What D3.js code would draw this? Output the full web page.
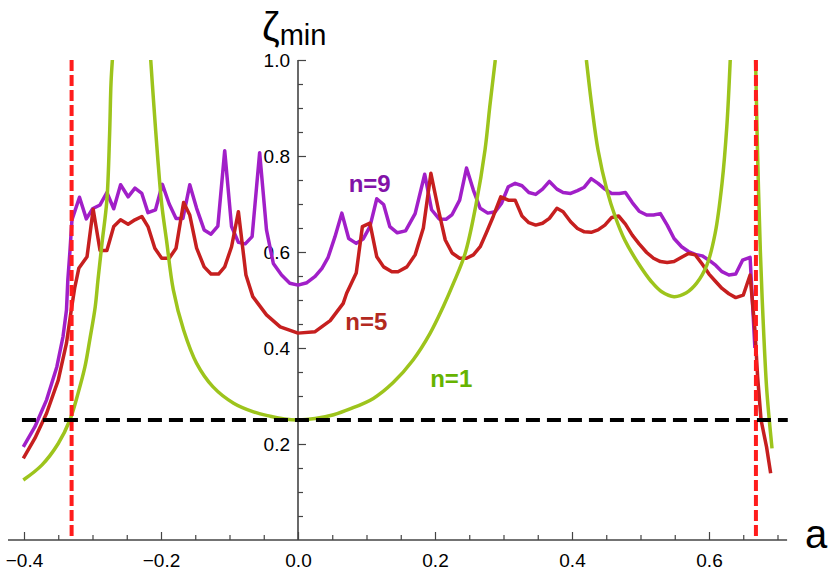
<!DOCTYPE html>
<html>
<head>
<meta charset="utf-8">
<script src="https://cdnjs.cloudflare.com/ajax/libs/d3/7.8.5/d3.min.js"></script>
<style>
    body { margin: 0; background: #fff; }
    text { font-family: 'Liberation Sans', Arial, sans-serif; }
</style>
</head>
<body>
<div id="chart"></div>
<script>
// data: [a, zeta_min]
const n9 = [
    [-0.401, 0.194], [-0.384, 0.236], [-0.367, 0.292], [-0.352, 0.361], [-0.343, 0.424],
    [-0.338, 0.479], [-0.336, 0.542], [-0.333, 0.600], [-0.330, 0.667], [-0.319, 0.714],
    [-0.309, 0.669], [-0.300, 0.690],
    [-0.289, 0.698], [-0.279, 0.724], [-0.269, 0.690], [-0.259, 0.740], [-0.248, 0.715],
    [-0.238, 0.733], [-0.228, 0.722], [-0.219, 0.682], [-0.208, 0.688], [-0.198, 0.741],
    [-0.188, 0.700], [-0.178, 0.670], [-0.168, 0.670], [-0.158, 0.740], [-0.148, 0.691],
    [-0.137, 0.646], [-0.127, 0.637], [-0.117, 0.654], [-0.107, 0.811], [-0.097, 0.653],
    [-0.087, 0.620], [-0.077, 0.617], [-0.067, 0.632], [-0.056, 0.807], [-0.046, 0.646],
    [-0.036, 0.576], [-0.024, 0.552], [-0.012, 0.535], [0.000, 0.531], [0.013, 0.536],
    [0.025, 0.549], [0.035, 0.566], [0.044, 0.589], [0.054, 0.632], [0.064, 0.681],
    [0.074, 0.628], [0.085, 0.618], [0.095, 0.627], [0.105, 0.653], [0.115, 0.711],
    [0.125, 0.699], [0.134, 0.653], [0.145, 0.640], [0.157, 0.644], [0.171, 0.680],
    [0.185, 0.762], [0.195, 0.688], [0.206, 0.669], [0.216, 0.668], [0.225, 0.678],
    [0.236, 0.708], [0.246, 0.775], [0.256, 0.729], [0.266, 0.691], [0.277, 0.681],
    [0.288, 0.684], [0.297, 0.701], [0.307, 0.736], [0.317, 0.743], [0.327, 0.738],
    [0.337, 0.724], [0.347, 0.720], [0.357, 0.731], [0.367, 0.747], [0.378, 0.731],
    [0.387, 0.724], [0.398, 0.722], [0.408, 0.728], [0.418, 0.735], [0.428, 0.753],
    [0.438, 0.743], [0.448, 0.731], [0.458, 0.722], [0.469, 0.722], [0.478, 0.724],
    [0.488, 0.703], [0.498, 0.685], [0.509, 0.677], [0.519, 0.677], [0.529, 0.680],
    [0.539, 0.656], [0.549, 0.628], [0.560, 0.611], [0.570, 0.601], [0.580, 0.595],
    [0.590, 0.592], [0.600, 0.583], [0.610, 0.572], [0.619, 0.559], [0.629, 0.552],
    [0.639, 0.554], [0.649, 0.583], [0.660, 0.589], [0.667, 0.40]
];

const n5 = [
    [-0.401, 0.170], [-0.384, 0.212], [-0.367, 0.264], [-0.350, 0.333], [-0.338, 0.410],
    [-0.331, 0.479], [-0.326, 0.525], [-0.320, 0.566], [-0.308, 0.590], [-0.299, 0.689],
    [-0.289, 0.603], [-0.279, 0.603],
    [-0.269, 0.653], [-0.259, 0.667], [-0.248, 0.658], [-0.238, 0.667], [-0.228, 0.674],
    [-0.219, 0.653], [-0.209, 0.608], [-0.199, 0.587], [-0.188, 0.587], [-0.178, 0.608],
    [-0.167, 0.703], [-0.158, 0.677], [-0.148, 0.608], [-0.137, 0.569], [-0.127, 0.554],
    [-0.116, 0.554], [-0.107, 0.569], [-0.097, 0.611], [-0.087, 0.684], [-0.076, 0.552],
    [-0.066, 0.507], [-0.046, 0.469], [-0.026, 0.444], [0.000, 0.431], [0.025, 0.434],
    [0.047, 0.457], [0.066, 0.493], [0.071, 0.514], [0.085, 0.556], [0.094, 0.653],
    [0.105, 0.660], [0.115, 0.590], [0.125, 0.569], [0.137, 0.559], [0.146, 0.559],
    [0.159, 0.569], [0.171, 0.594], [0.183, 0.650], [0.194, 0.764], [0.205, 0.688],
    [0.215, 0.625], [0.225, 0.598], [0.236, 0.587], [0.246, 0.587], [0.256, 0.594],
    [0.266, 0.611], [0.275, 0.640], [0.285, 0.674], [0.296, 0.715], [0.307, 0.708],
    [0.317, 0.708], [0.327, 0.675], [0.337, 0.661], [0.347, 0.656], [0.357, 0.660],
    [0.367, 0.670], [0.378, 0.691], [0.387, 0.684], [0.398, 0.663], [0.408, 0.649],
    [0.418, 0.642], [0.428, 0.641], [0.438, 0.646], [0.448, 0.656], [0.458, 0.672],
    [0.468, 0.675], [0.478, 0.658], [0.488, 0.635], [0.498, 0.617], [0.509, 0.599],
    [0.519, 0.587], [0.529, 0.580], [0.539, 0.578], [0.549, 0.580], [0.560, 0.589],
    [0.570, 0.597], [0.580, 0.594], [0.590, 0.575], [0.600, 0.554], [0.610, 0.538],
    [0.619, 0.524], [0.629, 0.513], [0.639, 0.505], [0.650, 0.510], [0.660, 0.552],
    [0.667, 0.438], [0.671, 0.340], [0.676, 0.250], [0.684, 0.194], [0.690, 0.139]
];

// n=1 blows up, so it comes in branches
const n1Left = [
    [-0.401, 0.125], [-0.374, 0.156], [-0.350, 0.201], [-0.333, 0.250], [-0.321, 0.306],
    [-0.311, 0.361], [-0.304, 0.417], [-0.296, 0.486], [-0.292, 0.542], [-0.286, 0.620],
    [-0.279, 0.708], [-0.275, 0.847], [-0.273, 0.951], [-0.271, 1.0]
];
const n1Mid = [
    [-0.215, 1.0], [-0.211, 0.917], [-0.205, 0.800], [-0.199, 0.700], [-0.192, 0.625],
    [-0.182, 0.521], [-0.167, 0.4375], [-0.148, 0.368], [-0.124, 0.319], [-0.094, 0.285],
    [-0.065, 0.267], [-0.041, 0.258], [-0.020, 0.252], [0.000, 0.250], [0.025, 0.253],
    [0.052, 0.261], [0.076, 0.273], [0.110, 0.295], [0.139, 0.328], [0.168, 0.375],
    [0.193, 0.431], [0.212, 0.486], [0.227, 0.535], [0.244, 0.597], [0.260, 0.700],
    [0.273, 0.8125], [0.280, 0.903], [0.288, 1.0]
];
const n1Right = [
    [0.421, 1.0], [0.429, 0.903], [0.438, 0.8125], [0.451, 0.729], [0.463, 0.674],
    [0.477, 0.625], [0.497, 0.576], [0.516, 0.538], [0.531, 0.517], [0.549, 0.507],
    [0.567, 0.515], [0.582, 0.535], [0.597, 0.573], [0.609, 0.639], [0.619, 0.743],
    [0.626, 0.861], [0.631, 1.0]
];
const n1Far = [
    [0.668, 1.0], [0.671, 0.80], [0.675, 0.60], [0.679, 0.458], [0.684, 0.319],
    [0.688, 0.25], [0.692, 0.191]
];

const aBounds = [-0.3305, 0.6685];  // red dashed verticals
const zetaBound = 0.25;             // black dashed horizontal

const xMajor = [-0.4, -0.2, 0.0, 0.2, 0.4, 0.6];
const xMinor = [-0.35, -0.3, -0.25, -0.15, -0.1, -0.05, 0.05, 0.1, 0.15, 0.25, 0.3, 0.35, 0.45, 0.5, 0.55, 0.65, 0.7];
const yMajor = [0.2, 0.4, 0.6, 0.8, 1.0];
const yMinor = [0.05, 0.1, 0.15, 0.25, 0.3, 0.35, 0.45, 0.5, 0.55, 0.65, 0.7, 0.75, 0.85, 0.9, 0.95];

// svg
const width = 830;
const height = 581;

const svg = d3.select('#chart').append('svg')
    .attr('width', width)
    .attr('height', height);

const xScale = d3.scaleLinear()
    .domain([-0.4, 0.7])
    .range([24, 777.5]);

const yScale = d3.scaleLinear()
    .domain([0, 1])
    .range([540, 60]);

const axisColor = '#444';

// x axis (ticks point inward, like Mathematica)
const xAxisG = svg.append('g')
    .attr('transform', 'translate(0,' + yScale(0) + ')');
xAxisG.call(d3.axisBottom(xScale)
    .tickValues(xMajor)
    .tickSizeInner(-8)
    .tickSizeOuter(0)
    .tickPadding(14)
    .tickFormat(d3.format('.1f')));
xAxisG.append('g').call(d3.axisBottom(xScale)
    .tickValues(xMinor)
    .tickSizeInner(-5)
    .tickSizeOuter(0)
    .tickFormat(''));

// y axis
const yAxisG = svg.append('g')
    .attr('transform', 'translate(' + xScale(0) + ',0)');
yAxisG.call(d3.axisLeft(yScale)
    .tickValues(yMajor)
    .tickSizeInner(-8)
    .tickSizeOuter(0)
    .tickPadding(8)
    .tickFormat(d3.format('.1f')));
yAxisG.append('g').call(d3.axisLeft(yScale)
    .tickValues(yMinor)
    .tickSizeInner(-5)
    .tickSizeOuter(0)
    .tickFormat(''));

svg.selectAll('.domain').remove();
svg.selectAll('.tick line')
    .attr('stroke', axisColor)
    .attr('stroke-width', 1.2);
svg.selectAll('.tick text')
    .attr('fill', '#000')
    .style('font-size', '19px')
    .style('font-family', "'Liberation Sans', Arial, sans-serif");

// axis lines, the x one runs a bit past the ticks
svg.append('line')
    .attr('x1', xScale(-0.4234))
    .attr('x2', xScale(0.714))
    .attr('y1', yScale(0))
    .attr('y2', yScale(0))
    .attr('stroke', axisColor)
    .attr('stroke-width', 1.6);
svg.append('line')
    .attr('x1', xScale(0))
    .attr('x2', xScale(0))
    .attr('y1', yScale(0))
    .attr('y2', yScale(1))
    .attr('stroke', axisColor)
    .attr('stroke-width', 1.6);

// axis labels
const yLabel = svg.append('text')
    .attr('x', 262)
    .attr('y', 41)
    .attr('fill', '#000');
yLabel.append('tspan')
    .style('font-size', '40px')
    .text('ζ');
yLabel.append('tspan')
    .attr('dy', 4)
    .style('font-size', '29px')
    .text('min');

svg.append('text')
    .attr('x', 805)
    .attr('y', 548)
    .attr('fill', '#000')
    .style('font-size', '40px')
    .text('a');

// curves
svg.append('clipPath')
    .attr('id', 'plotClip')
    .append('rect')
    .attr('x', 0)
    .attr('y', yScale(1))
    .attr('width', width)
    .attr('height', yScale(0) - yScale(1) + 40);

const line = d3.line()
    .x(d => xScale(d[0]))
    .y(d => yScale(d[1]));

const smooth = d3.line()
    .x(d => xScale(d[0]))
    .y(d => yScale(d[1]))
    .curve(d3.curveCatmullRom.alpha(0.5));

const plot = svg.append('g')
    .attr('clip-path', 'url(#plotClip)');

plot.append('path')
    .datum(n9)
    .attr('d', line)
    .attr('fill', 'none')
    .attr('stroke', '#a11fc8')
    .attr('stroke-width', 3.5)
    .attr('stroke-linejoin', 'round');

plot.append('path')
    .datum(n5)
    .attr('d', line)
    .attr('fill', 'none')
    .attr('stroke', '#c61f1f')
    .attr('stroke-width', 3.5)
    .attr('stroke-linejoin', 'round');

plot.selectAll('.n1')
    .data([n1Left, n1Mid, n1Right, n1Far])
    .enter().append('path')
    .attr('class', 'n1')
    .attr('d', smooth)
    .attr('fill', 'none')
    .attr('stroke', '#9dc41c')
    .attr('stroke-width', 3.5);

// reference lines
svg.selectAll('.bound')
    .data(aBounds)
    .enter().append('line')
    .attr('class', 'bound')
    .attr('x1', d => xScale(d))
    .attr('x2', d => xScale(d))
    .attr('y1', yScale(1))
    .attr('y2', yScale(0))
    .attr('stroke', '#ff1c1c')
    .attr('stroke-width', 4)
    .attr('stroke-dasharray', '11,4');

svg.append('line')
    .attr('x1', xScale(-0.403))
    .attr('x2', xScale(0.715))
    .attr('y1', yScale(zetaBound))
    .attr('y2', yScale(zetaBound))
    .attr('stroke', '#000')
    .attr('stroke-width', 4)
    .attr('stroke-dasharray', '14,7');

// curve labels
const labelFont = "bold 24px 'Liberation Sans', Arial, sans-serif";
svg.append('text')
    .attr('x', xScale(0.074))
    .attr('y', yScale(0.725))
    .attr('fill', '#8212a8')
    .style('font', labelFont)
    .text('n=9');
svg.append('text')
    .attr('x', xScale(0.069))
    .attr('y', yScale(0.4375))
    .attr('fill', '#b3291f')
    .style('font', labelFont)
    .text('n=5');
svg.append('text')
    .attr('x', xScale(0.193))
    .attr('y', yScale(0.319))
    .attr('fill', '#66b300')
    .style('font', labelFont)
    .text('n=1');
</script>
</body>
</html>
